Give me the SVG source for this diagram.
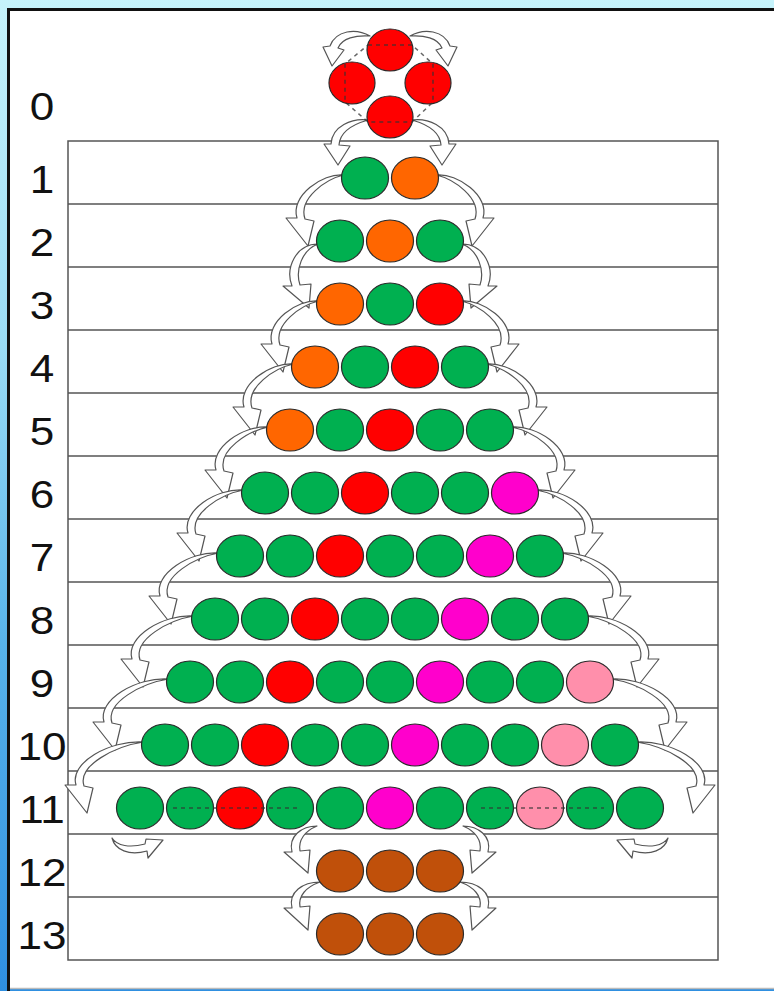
<svg xmlns="http://www.w3.org/2000/svg" xmlns:xlink="http://www.w3.org/1999/xlink" width="774" height="991" viewBox="0 0 774 991">
<defs>
<linearGradient id="bg" x1="0" y1="0" x2="0" y2="1">
<stop offset="0" stop-color="#c6f3fb"/>
<stop offset="0.35" stop-color="#9adcf5"/>
<stop offset="0.65" stop-color="#58b3ea"/>
<stop offset="1" stop-color="#2f8fe0"/>
</linearGradient>
<style>
.arr{fill:#ffffff;stroke:#555;stroke-width:1.2;stroke-linejoin:round}
ellipse{stroke:#2a2a2a;stroke-width:1.2}
.G{fill:#00b050}.O{fill:#ff6600}.R{fill:#ff0000}.M{fill:#ff00cc}.P{fill:#ff8fab}.B{fill:#c0500a}
.lbl{font-family:"Liberation Sans",Arial,sans-serif;font-size:39px;fill:#111;text-anchor:middle}
.grid{stroke:#555;stroke-width:1.5;fill:none}
.dash{stroke:#333;stroke-width:1.5;stroke-dasharray:4 4;fill:none;opacity:0.75}
</style>
</defs>
<rect x="0" y="0" width="774" height="991" fill="url(#bg)"/>
<rect x="8" y="9" width="770" height="979" fill="#ffffff"/>
<line x1="8.5" y1="8" x2="8.5" y2="991" stroke="#111" stroke-width="3"/>
<line x1="7" y1="9.5" x2="774" y2="9.5" stroke="#111" stroke-width="3"/>
<line x1="10" y1="988.5" x2="774" y2="988.5" stroke="#bbb" stroke-width="1.5"/>

<g id="table">
<rect class="grid" x="68" y="141" width="650" height="819"/>
<path class="grid" d="M68,204H718M68,267H718M68,330H718M68,393H718M68,456H718M68,519H718M68,582H718M68,645H718M68,708H718M68,771H718M68,834H718M68,897H718"/>
</g>

<g id="labels">
<text class="lbl" transform="translate(42,120) scale(1.13,1)">0</text>
<text class="lbl" transform="translate(42,193) scale(1.13,1)">1</text>
<text class="lbl" transform="translate(42,256) scale(1.13,1)">2</text>
<text class="lbl" transform="translate(42,319) scale(1.13,1)">3</text>
<text class="lbl" transform="translate(42,382) scale(1.13,1)">4</text>
<text class="lbl" transform="translate(42,445) scale(1.13,1)">5</text>
<text class="lbl" transform="translate(42,508) scale(1.13,1)">6</text>
<text class="lbl" transform="translate(42,571) scale(1.13,1)">7</text>
<text class="lbl" transform="translate(42,634) scale(1.13,1)">8</text>
<text class="lbl" transform="translate(42,697) scale(1.13,1)">9</text>
<text class="lbl" transform="translate(42,760) scale(1.13,1)">10</text>
<text class="lbl" transform="translate(42,823) scale(1.13,1)">11</text>
<text class="lbl" transform="translate(42,886) scale(1.13,1)">12</text>
<text class="lbl" transform="translate(42,949) scale(1.13,1)">13</text>
</g>

<g id="connectors">
<path id="a0t" class="arr" d="M370,36 C356,28 336,30 330,46 L323,47 L332,66 L344,50 L338,48 C342,38 356,35 370,36 Z"/>
<path id="a0b" class="arr" d="M368,120 C352,118 332,126 331,144 L324,144 L338,165 L350,146 L339,145 C340,131 354,124 368,120 Z"/>
<path id="a2" class="arr" d="M343.5,175 C322.5,173 290,196 297,218 L286,218 L308,246 L314,221 L305,219 C298,198 326.7,179 343.5,175 Z"/>
<path id="a3" class="arr" d="M318,244 C296,244 285,268 292,286 L283,286 L309,308 L311,284 L300,285 C295,270 302,250 318,244 Z"/>
<path id="a4" class="arr" d="M318.5,301 C297.5,299 265,322 272,344 L261,344 L283,372 L289,347 L280,345 C273,324 301.7,305 318.5,301 Z"/>
<path id="a5" class="arr" d="M293.5,364 C270.5,362 237,385 244,407 L233,407 L255,435 L261,410 L252,408 C245,387 275.1,368 293.5,364 Z"/>
<path id="a6" class="arr" d="M268.5,427 C243.5,425 209,448 216,470 L205,470 L227,498 L233,473 L224,471 C217,450 248.5,431 268.5,427 Z"/>
<path id="a7" class="arr" d="M243.5,490 C216.5,488 181,511 188,533 L177,533 L199,561 L205,536 L196,534 C189,513 221.9,494 243.5,490 Z"/>
<path id="a8" class="arr" d="M218.5,553 C190.5,551 153,574 160,596 L149,596 L171,624 L177,599 L168,597 C161,576 196.1,557 218.5,553 Z"/>
<path id="a9" class="arr" d="M193.5,616 C163.5,614 125,637 132,659 L121,659 L143,687 L149,662 L140,660 C133,639 169.5,620 193.5,616 Z"/>
<path id="a10" class="arr" d="M168.5,679 C136.5,677 97,700 104,722 L93,722 L115,750 L121,725 L112,723 C105,702 142.9,683 168.5,679 Z"/>
<path id="a11" class="arr" d="M143.5,742 C109.5,740 69,763 76,785 L65,785 L87,813 L93,788 L84,786 C77,765 116.3,746 143.5,742 Z"/>
<path id="a11b" class="arr" d="M112,838 C117,846 130,848 145,844 L146,839 L163,840 L148,858 L147,851 C129,856 115,850 112,838 Z"/>
<path id="a12" class="arr" d="M317,826 C302,826 288,836 292,852 L284,852 L308,873 L310,850 L300,851 C298,840 305,831 317,826 Z"/>
<path id="a13" class="arr" d="M320,882 C303,882 288,892 292,908 L284,908 L308,930 L310,906 L300,907 C298,896 306,887 320,882 Z"/>
<g transform="matrix(-1 0 0 1 780 0)">
<use xlink:href="#a0t"/><use xlink:href="#a0b"/><use xlink:href="#a2"/><use xlink:href="#a3"/>
<use xlink:href="#a4"/><use xlink:href="#a5"/><use xlink:href="#a6"/><use xlink:href="#a7"/>
<use xlink:href="#a8"/><use xlink:href="#a9"/><use xlink:href="#a10"/><use xlink:href="#a11"/>
<use xlink:href="#a11b"/><use xlink:href="#a12"/><use xlink:href="#a13"/>
</g>
</g>

<g id="row0">
<g id="n0-1"><ellipse class="R" cx="390" cy="50" rx="23" ry="21"/></g>
<g id="n0-2"><ellipse class="R" cx="352" cy="83" rx="23" ry="21"/></g>
<g id="n0-3"><ellipse class="R" cx="428" cy="83" rx="23" ry="21"/></g>
<g id="n0-4"><ellipse class="R" cx="390" cy="117" rx="23" ry="21"/></g>
<path class="dash" d="M368,45 L412,45 L433,64 L433,102 L412,122 L368,122 L345,102 L345,64 Z"/>
</g>

<g id="row1">
<g id="n1-1"><ellipse class="G" cx="365" cy="178" rx="23.5" ry="21"/></g>
<g id="n1-2"><ellipse class="O" cx="415" cy="178" rx="23.5" ry="21"/></g>
</g>
<g id="row2">
<g id="n2-1"><ellipse class="G" cx="340" cy="241" rx="23.5" ry="21"/></g>
<g id="n2-2"><ellipse class="O" cx="390" cy="241" rx="23.5" ry="21"/></g>
<g id="n2-3"><ellipse class="G" cx="440" cy="241" rx="23.5" ry="21"/></g>
</g>
<g id="row3">
<g id="n3-1"><ellipse class="O" cx="340" cy="304" rx="23.5" ry="21"/></g>
<g id="n3-2"><ellipse class="G" cx="390" cy="304" rx="23.5" ry="21"/></g>
<g id="n3-3"><ellipse class="R" cx="440" cy="304" rx="23.5" ry="21"/></g>
</g>
<g id="row4">
<g id="n4-1"><ellipse class="O" cx="315" cy="367" rx="23.5" ry="21"/></g>
<g id="n4-2"><ellipse class="G" cx="365" cy="367" rx="23.5" ry="21"/></g>
<g id="n4-3"><ellipse class="R" cx="415" cy="367" rx="23.5" ry="21"/></g>
<g id="n4-4"><ellipse class="G" cx="465" cy="367" rx="23.5" ry="21"/></g>
</g>
<g id="row5">
<g id="n5-1"><ellipse class="O" cx="290" cy="430" rx="23.5" ry="21"/></g>
<g id="n5-2"><ellipse class="G" cx="340" cy="430" rx="23.5" ry="21"/></g>
<g id="n5-3"><ellipse class="R" cx="390" cy="430" rx="23.5" ry="21"/></g>
<g id="n5-4"><ellipse class="G" cx="440" cy="430" rx="23.5" ry="21"/></g>
<g id="n5-5"><ellipse class="G" cx="490" cy="430" rx="23.5" ry="21"/></g>
</g>
<g id="row6">
<g id="n6-1"><ellipse class="G" cx="265" cy="493" rx="23.5" ry="21"/></g>
<g id="n6-2"><ellipse class="G" cx="315" cy="493" rx="23.5" ry="21"/></g>
<g id="n6-3"><ellipse class="R" cx="365" cy="493" rx="23.5" ry="21"/></g>
<g id="n6-4"><ellipse class="G" cx="415" cy="493" rx="23.5" ry="21"/></g>
<g id="n6-5"><ellipse class="G" cx="465" cy="493" rx="23.5" ry="21"/></g>
<g id="n6-6"><ellipse class="M" cx="515" cy="493" rx="23.5" ry="21"/></g>
</g>
<g id="row7">
<g id="n7-1"><ellipse class="G" cx="240" cy="556" rx="23.5" ry="21"/></g>
<g id="n7-2"><ellipse class="G" cx="290" cy="556" rx="23.5" ry="21"/></g>
<g id="n7-3"><ellipse class="R" cx="340" cy="556" rx="23.5" ry="21"/></g>
<g id="n7-4"><ellipse class="G" cx="390" cy="556" rx="23.5" ry="21"/></g>
<g id="n7-5"><ellipse class="G" cx="440" cy="556" rx="23.5" ry="21"/></g>
<g id="n7-6"><ellipse class="M" cx="490" cy="556" rx="23.5" ry="21"/></g>
<g id="n7-7"><ellipse class="G" cx="540" cy="556" rx="23.5" ry="21"/></g>
</g>
<g id="row8">
<g id="n8-1"><ellipse class="G" cx="215" cy="619" rx="23.5" ry="21"/></g>
<g id="n8-2"><ellipse class="G" cx="265" cy="619" rx="23.5" ry="21"/></g>
<g id="n8-3"><ellipse class="R" cx="315" cy="619" rx="23.5" ry="21"/></g>
<g id="n8-4"><ellipse class="G" cx="365" cy="619" rx="23.5" ry="21"/></g>
<g id="n8-5"><ellipse class="G" cx="415" cy="619" rx="23.5" ry="21"/></g>
<g id="n8-6"><ellipse class="M" cx="465" cy="619" rx="23.5" ry="21"/></g>
<g id="n8-7"><ellipse class="G" cx="515" cy="619" rx="23.5" ry="21"/></g>
<g id="n8-8"><ellipse class="G" cx="565" cy="619" rx="23.5" ry="21"/></g>
</g>
<g id="row9">
<g id="n9-1"><ellipse class="G" cx="190" cy="682" rx="23.5" ry="21"/></g>
<g id="n9-2"><ellipse class="G" cx="240" cy="682" rx="23.5" ry="21"/></g>
<g id="n9-3"><ellipse class="R" cx="290" cy="682" rx="23.5" ry="21"/></g>
<g id="n9-4"><ellipse class="G" cx="340" cy="682" rx="23.5" ry="21"/></g>
<g id="n9-5"><ellipse class="G" cx="390" cy="682" rx="23.5" ry="21"/></g>
<g id="n9-6"><ellipse class="M" cx="440" cy="682" rx="23.5" ry="21"/></g>
<g id="n9-7"><ellipse class="G" cx="490" cy="682" rx="23.5" ry="21"/></g>
<g id="n9-8"><ellipse class="G" cx="540" cy="682" rx="23.5" ry="21"/></g>
<g id="n9-9"><ellipse class="P" cx="590" cy="682" rx="23.5" ry="21"/></g>
</g>
<g id="row10">
<g id="n10-1"><ellipse class="G" cx="165" cy="745" rx="23.5" ry="21"/></g>
<g id="n10-2"><ellipse class="G" cx="215" cy="745" rx="23.5" ry="21"/></g>
<g id="n10-3"><ellipse class="R" cx="265" cy="745" rx="23.5" ry="21"/></g>
<g id="n10-4"><ellipse class="G" cx="315" cy="745" rx="23.5" ry="21"/></g>
<g id="n10-5"><ellipse class="G" cx="365" cy="745" rx="23.5" ry="21"/></g>
<g id="n10-6"><ellipse class="M" cx="415" cy="745" rx="23.5" ry="21"/></g>
<g id="n10-7"><ellipse class="G" cx="465" cy="745" rx="23.5" ry="21"/></g>
<g id="n10-8"><ellipse class="G" cx="515" cy="745" rx="23.5" ry="21"/></g>
<g id="n10-9"><ellipse class="P" cx="565" cy="745" rx="23.5" ry="21"/></g>
<g id="n10-10"><ellipse class="G" cx="615" cy="745" rx="23.5" ry="21"/></g>
</g>
<g id="row11">
<g id="n11-1"><ellipse class="G" cx="140" cy="808" rx="23.5" ry="21"/></g>
<g id="n11-2"><ellipse class="G" cx="190" cy="808" rx="23.5" ry="21"/></g>
<g id="n11-3"><ellipse class="R" cx="240" cy="808" rx="23.5" ry="21"/></g>
<g id="n11-4"><ellipse class="G" cx="290" cy="808" rx="23.5" ry="21"/></g>
<g id="n11-5"><ellipse class="G" cx="340" cy="808" rx="23.5" ry="21"/></g>
<g id="n11-6"><ellipse class="M" cx="390" cy="808" rx="23.5" ry="21"/></g>
<g id="n11-7"><ellipse class="G" cx="440" cy="808" rx="23.5" ry="21"/></g>
<g id="n11-8"><ellipse class="G" cx="490" cy="808" rx="23.5" ry="21"/></g>
<g id="n11-9"><ellipse class="P" cx="540" cy="808" rx="23.5" ry="21"/></g>
<g id="n11-10"><ellipse class="G" cx="590" cy="808" rx="23.5" ry="21"/></g>
<g id="n11-11"><ellipse class="G" cx="640" cy="808" rx="23.5" ry="21"/></g>
<path class="dash" d="M173,808 H298 M481,808 H604"/>
</g>
<g id="row12">
<g id="n12-1"><ellipse class="B" cx="340" cy="871" rx="23.5" ry="21"/></g>
<g id="n12-2"><ellipse class="B" cx="390" cy="871" rx="23.5" ry="21"/></g>
<g id="n12-3"><ellipse class="B" cx="440" cy="871" rx="23.5" ry="21"/></g>
</g>
<g id="row13">
<g id="n13-1"><ellipse class="B" cx="340" cy="934" rx="23.5" ry="21"/></g>
<g id="n13-2"><ellipse class="B" cx="390" cy="934" rx="23.5" ry="21"/></g>
<g id="n13-3"><ellipse class="B" cx="440" cy="934" rx="23.5" ry="21"/></g>
</g>
</svg>
